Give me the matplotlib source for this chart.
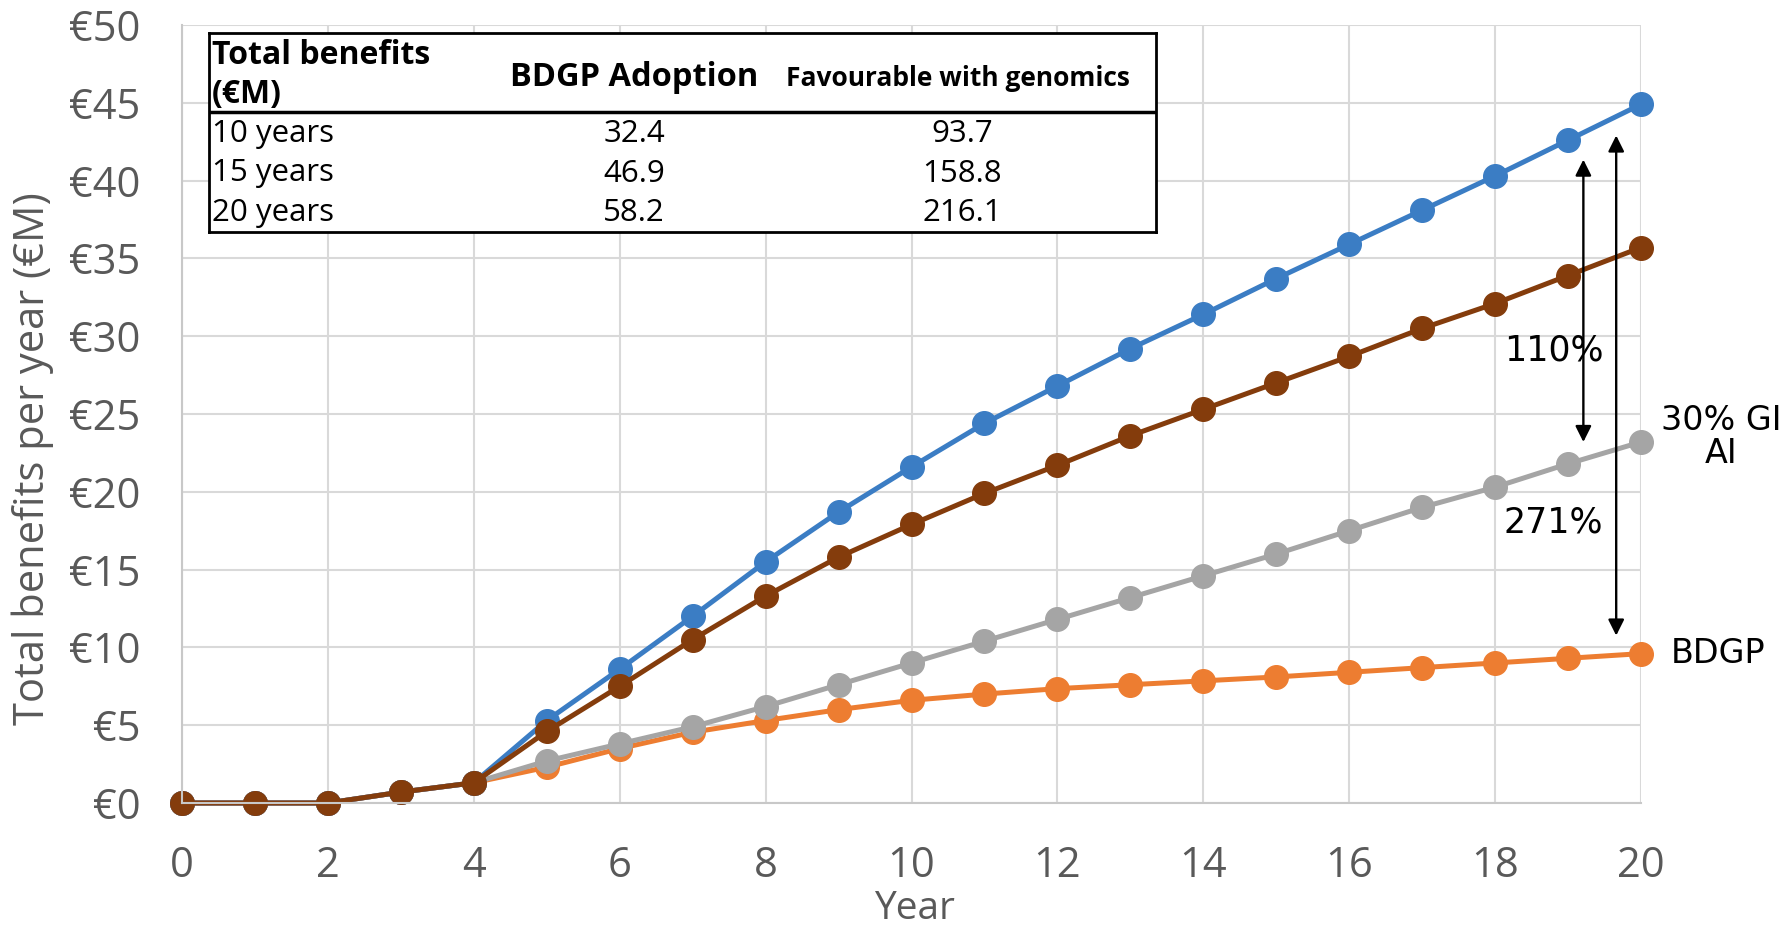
import matplotlib
matplotlib.use("Agg")
import matplotlib.pyplot as plt

# values (EUR millions per year)
years = list(range(21))
favourable = [0, 0, 0, 0.7, 1.3, 5.3, 8.6, 12.0, 15.5, 18.7, 21.6, 24.4, 26.8, 29.2, 31.4, 33.7, 35.9, 38.1, 40.3, 42.6, 44.9]
gi_ai = [0, 0, 0, 0.7, 1.3, 4.6, 7.5, 10.5, 13.3, 15.8, 17.9, 19.9, 21.7, 23.6, 25.3, 27.0, 28.7, 30.5, 32.1, 33.9, 35.7]
gi_30 = [0, 0, 0, 0.7, 1.3, 2.7, 3.8, 4.9, 6.2, 7.6, 9.0, 10.4, 11.8, 13.2, 14.6, 16.0, 17.5, 19.0, 20.3, 21.8, 23.2]
bdgp = [0, 0, 0, 0.7, 1.3, 2.3, 3.5, 4.55, 5.3, 6.0, 6.6, 7.0, 7.35, 7.6, 7.85, 8.1, 8.4, 8.7, 9.0, 9.3, 9.6]

table_cols = ["BDGP Adoption", "Favourable with genomics"]
table_rows = ["10 years", "15 years", "20 years"]
table_bdgp = ["32.4", "46.9", "58.2"]
table_fav = ["93.7", "158.8", "216.1"]

W, H = 1787, 925
TICK = "#595959"
GRID = "#d9d9d9"

fig = plt.figure(figsize=(W / 100, H / 100), dpi=100)
ax = fig.add_axes([182 / W, 1 - 803 / H, (1641 - 182) / W, (803 - 25) / H])

series = [(bdgp, "#ed7d31"), (gi_30, "#a5a5a5"), (favourable, "#3b7dc4"), (gi_ai, "#843c0c")]
for vals, col in series:
    ax.plot(years, vals, "-o", color=col, lw=3.6, ms=17, clip_on=False)

ax.set_xlim(0, 20)
ax.set_ylim(0, 50)
ax.set_xticks(range(0, 21, 2))
ax.set_yticks(range(0, 51, 5))
ax.set_yticklabels(["€%d" % v for v in range(0, 51, 5)])
ax.tick_params(length=0, labelsize=30, labelcolor=TICK)
ax.tick_params(axis="y", pad=30)
ax.tick_params(axis="x", pad=30)
for lab in ax.get_xticklabels() + ax.get_yticklabels():
    lab.set_family("Open Sans")
ax.grid(True, color=GRID, lw=1.5)
ax.set_axisbelow(True)
for s in ["top", "right"]:
    ax.spines[s].set_visible(False)
for s in ["left", "bottom"]:
    ax.spines[s].set_color("#c8c8c8")
    ax.spines[s].set_linewidth(1.5)

fig.text(33 / W, 1 - 459 / H, "Total benefits per year (€M)", rotation=90, ha="center", va="center",
         fontsize=30, color=TICK, family="Open Sans")
fig.text(914 / W, 1 - 919 / H, "Year", ha="center", va="baseline", fontsize=28, color=TICK, family="Open Sans")

# arrows and percentage labels
arrow = dict(arrowstyle="<|-|>", color="black", lw=1.7, mutation_scale=24, shrinkA=0, shrinkB=0)
ax.annotate("", xy=(19.21, 23.2), xytext=(19.21, 41.35), arrowprops=arrow)
ax.annotate("", xy=(19.66, 10.76), xytext=(19.66, 42.9), arrowprops=arrow)
ax.text(18.8, 29.1, "110%", ha="center", va="center", fontsize=25, family="DejaVu Sans")
ax.text(18.8, 18.0, "271%", ha="center", va="center", fontsize=25, family="DejaVu Sans")
ax.text(21.1, 23.5, "30% GI\nAI", ha="center", va="center", fontsize=24, family="DejaVu Sans",
        linespacing=1.0, clip_on=False)
ax.text(21.06, 9.6, "BDGP", ha="center", va="center", fontsize=24, family="DejaVu Sans", clip_on=False)

# summary table in the top-left corner, drawn in pixel coordinates
L, R, T, B = 209, 1156, 33, 232
tab = fig.add_axes([L / W, 1 - B / H, (R - L) / W, (B - T) / H])
tab.set_xlim(L, R)
tab.set_ylim(B, T)
tab.set_xticks([])
tab.set_yticks([])
for s in tab.spines.values():
    s.set_color("black")
    s.set_linewidth(2)
tab.axhline(112, color="black", lw=2.5)
tab.text(212, 55, "Total benefits", ha="left", va="center", fontsize=23, weight="bold", family="Open Sans")
tab.text(212, 95, "(€M)", ha="left", va="center", fontsize=23, weight="bold", family="Open Sans")
tab.text(634, 78, table_cols[0], ha="center", va="center", fontsize=23.5, weight="bold", family="Open Sans")
tab.text(958, 78, table_cols[1], ha="center", va="center", fontsize=19, weight="bold", family="Open Sans")
for i, (r, a, b) in enumerate(zip(table_rows, table_bdgp, table_fav)):
    y = 134 + i * 39.5
    tab.text(212, y, r, ha="left", va="center", fontsize=22.5, family="Open Sans")
    tab.text(634, y, a, ha="center", va="center", fontsize=22.5, family="Open Sans")
    tab.text(962, y, b, ha="center", va="center", fontsize=22.5, family="Open Sans")

fig.savefig("out.png", dpi=100)
